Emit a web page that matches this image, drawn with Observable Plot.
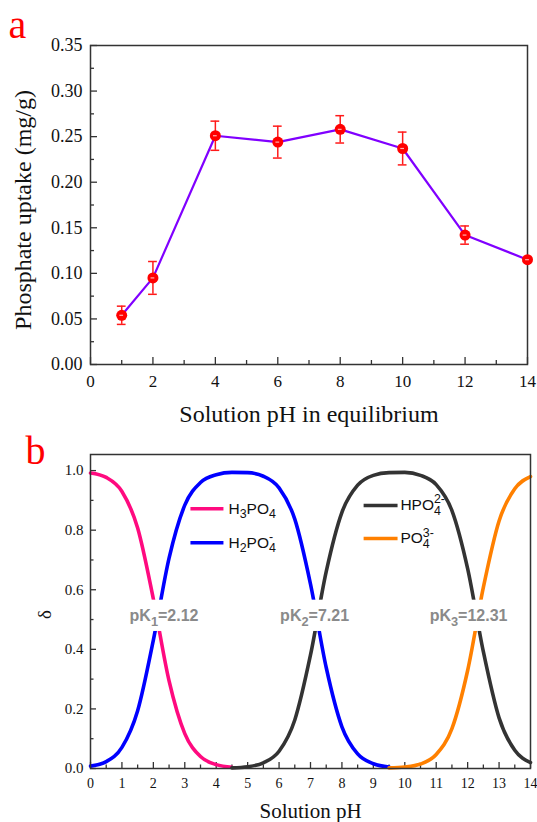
<!DOCTYPE html>
<html><head><meta charset="utf-8">
<script src="https://cdn.jsdelivr.net/npm/d3@7"></script>
<script src="https://cdn.jsdelivr.net/npm/@observablehq/plot@0.6"></script>
<style>
body{margin:0;background:#fff;width:537px;height:822px;overflow:hidden}
#chart svg{display:block}
</style></head><body><div id="chart"></div>
<script>
// ---------- Panel a data ----------
const uptakePH = [1, 2, 4, 6, 8, 10, 12, 14];
const uptake = [0.054, 0.095, 0.251, 0.244, 0.258, 0.237, 0.142, 0.115];
const uptakeErr = [0.010, 0.018, 0.016, 0.0175, 0.015, 0.018, 0.010, 0.002];
const aXTicks = [0, 2, 4, 6, 8, 10, 12, 14];
const aXMinor = [1, 3, 5, 7, 9, 11, 13];
const aYTicks = [0, 0.05, 0.10, 0.15, 0.20, 0.25, 0.30, 0.35];
const aYMinor = [0.025, 0.075, 0.125, 0.175, 0.225, 0.275, 0.325];

// ---------- Panel b data ----------
const pHGrid = [0,0.5,1,1.5,2,2.5,3,3.5,4,4.5,5,5.5,6,6.5,7,7.5,8,8.5,9,9.5,10,10.5,11,11.5,12,12.5,13,13.5,14];
const fracH3PO4 = [0.992,0.977,0.930,0.807,0.569,0.294,0.117,0.040,0.013,0.004,
  null,null,null,null,null,null,null,null,null,null,null,null,null,null,null,null,null,null,null];
const fracH2PO4 = [0.008,0.023,0.071,0.194,0.431,0.706,0.884,0.960,0.986,0.994,
  0.993,0.981,0.942,0.837,0.619,0.339,0.140,0.049,0.016,0.005,
  null,null,null,null,null,null,null,null,null];
const fracHPO4 = [null,null,null,null,null,null,null,null,null,
  0.002,0.006,0.019,0.058,0.163,0.381,0.661,0.860,0.951,0.984,0.993,
  0.994,0.984,0.953,0.866,0.671,0.392,0.170,0.061,0.020];
const fracPO4 = [null,null,null,null,null,null,null,null,null,null,
  null,null,null,null,null,null,null,null,null,
  0.002,0.005,0.015,0.047,0.134,0.329,0.608,0.831,0.939,0.980];
const speciesNames = ["H3PO4", "H2PO4-", "HPO42-", "PO43-"];
const pKNames = ["pK1=2.12", "pK2=7.21", "pK3=12.31"];
const pKLabelPH = [2.34, 7.13, 12.03];
const bXTicks = [0,1,2,3,4,5,6,7,8,9,10,11,12,13,14];
const bXMinor = [0.5,1.5,2.5,3.5,4.5,5.5,6.5,7.5,8.5,9.5,10.5,11.5,12.5,13.5];
const bYTicks = [0, 0.2, 0.4, 0.6, 0.8, 1.0];
const bYMinor = [0.1, 0.3, 0.5, 0.7, 0.9];

// ---------- styles / layout ----------
const SERIF = "'Liberation Serif','Times New Roman',serif";
const SANS = "'Liberation Sans',Arial,sans-serif";
const speciesColors = ["#ff0a7f", "#0000ff", "#333333", "#ff8000"];
const legendLayout = [
  {x1: 3.18, x2: 4.23, tx: 4.39, y: 0.872},
  {x1: 3.18, x2: 4.23, tx: 4.39, y: 0.758},
  {x1: 8.69, x2: 9.77, tx: 9.86, y: 0.883},
  {x1: 8.69, x2: 9.77, tx: 9.86, y: 0.772}
];
const richText = {
  "H3PO4": [["H"], ["3", "sub"], ["PO"], ["4", "sub"]],
  "H2PO4-": [["H"], ["2", "sub"], ["PO"], ["4", "sub"], ["-", "stack"]],
  "HPO42-": [["HPO"], ["4", "sub"], ["2-", "stack"]],
  "PO43-": [["PO"], ["4", "sub"], ["3-", "stack"]],
  "pK1=2.12": [["pK"], ["1", "sub"], ["=2.12"]],
  "pK2=7.21": [["pK"], ["2", "sub"], ["=7.21"]],
  "pK3=12.31": [["pK"], ["3", "sub"], ["=12.31"]]
};

// ---------- Panel a ----------
const rowsA = uptakePH.map((x, i) => ({x, y: uptake[i], lo: uptake[i] - uptakeErr[i], hi: uptake[i] + uptakeErr[i]}));
const wA = 537, hA = 432, mtA = 45, mbA = 68, mlA = 90, mrA = 10;
const innerHA = hA - mtA - mbA, innerWA = wA - mlA - mrA;

const plotA = Plot.plot({
  width: wA, height: hA, marginTop: mtA, marginBottom: mbA, marginLeft: mlA, marginRight: mrA,
  style: {fontFamily: SERIF, fontSize: "17px", color: "#111", background: "white", overflow: "visible"},
  x: {domain: [0, 14]},
  y: {domain: [0, 0.35]},
  marks: [
    Plot.ruleX(aXTicks, {x: d => d, insetTop: innerHA - 7, stroke: "#333", strokeWidth: 1.3}),
    Plot.ruleX(aXMinor, {x: d => d, insetTop: innerHA - 4, stroke: "#333", strokeWidth: 1.3}),
    Plot.ruleY(aYTicks, {y: d => d, insetRight: innerWA - 7, stroke: "#333", strokeWidth: 1.3}),
    Plot.ruleY(aYMinor, {y: d => d, insetRight: innerWA - 4, stroke: "#333", strokeWidth: 1.3}),
    Plot.axisX(aXTicks, {tickSize: 0, tickPadding: 10, fontSize: 17, label: null, tickFormat: d => String(d)}),
    Plot.axisY(aYTicks, {tickSize: 0, tickPadding: 8, fontSize: 18, label: null, tickFormat: d => d.toFixed(2)}),
    Plot.frame({stroke: "#333", strokeWidth: 1.5}),
    Plot.line(rowsA, {x: "x", y: "y", stroke: "#8000ff", strokeWidth: 2.2}),
    Plot.ruleX(rowsA, {x: "x", y1: "lo", y2: "hi", stroke: "#ff1a1a", strokeWidth: 1.5}),
    Plot.ruleY(rowsA, {y: "hi", x1: d => d.x - 0.14, x2: d => d.x + 0.14, stroke: "#ff1a1a", strokeWidth: 1.5}),
    Plot.ruleY(rowsA, {y: "lo", x1: d => d.x - 0.14, x2: d => d.x + 0.14, stroke: "#ff1a1a", strokeWidth: 1.5}),
    Plot.dot(rowsA, {x: "x", y: "y", r: 5.5, fill: "#ff0000"}),
    Plot.ruleY(rowsA, {y: "y", x1: d => d.x - 0.06, x2: d => d.x + 0.06, stroke: "#ffb0b0", strokeWidth: 1.2}),
    Plot.text(["a"], {text: d => d, frameAnchor: "top-left", dx: -82, dy: -8, lineAnchor: "bottom", textAnchor: "start", fontSize: 40, fill: "#ff0000"}),
    Plot.text(["Solution pH in equilibrium"], {text: d => d, frameAnchor: "bottom", dy: 57, lineAnchor: "bottom", textAnchor: "middle", fontSize: 24, fill: "#111"}),
    Plot.text(["Phosphate uptake (mg/g)"], {text: d => d, frameAnchor: "left", dx: -67, dy: 5, rotate: -90, lineAnchor: "middle", textAnchor: "middle", fontSize: 24, fill: "#111"})
  ]
});

// ---------- Panel b ----------
const wB = 537, hB = 390, mtB = 22, mbB = 54, mlB = 90, mrB = 7;
const innerHB = hB - mtB - mbB, innerWB = wB - mlB - mrB;
const fracs = [fracH3PO4, fracH2PO4, fracHPO4, fracPO4];
const legendRows = speciesNames.map((name, i) => ({name, color: speciesColors[i], ...legendLayout[i]}));
const pKRows = pKNames.map((name, i) => ({name, x: pKLabelPH[i]}));

const plotB = Plot.plot({
  width: wB, height: hB, marginTop: mtB, marginBottom: mbB, marginLeft: mlB, marginRight: mrB,
  style: {fontFamily: SERIF, fontSize: "15px", color: "#111", background: "white", overflow: "visible"},
  x: {domain: [0, 14]},
  y: {domain: [0, 1.054]},
  marks: [
    Plot.ruleX(bXTicks, {x: d => d, insetTop: innerHB - 6, stroke: "#333", strokeWidth: 1.3}),
    Plot.ruleX(bXMinor, {x: d => d, insetTop: innerHB - 3.5, stroke: "#333", strokeWidth: 1.3}),
    Plot.ruleY(bYTicks, {y: d => d, insetRight: innerWB - 6, stroke: "#333", strokeWidth: 1.3}),
    Plot.ruleY(bYMinor, {y: d => d, insetRight: innerWB - 3.5, stroke: "#333", strokeWidth: 1.3}),
    Plot.axisX(bXTicks, {tickSize: 0, tickPadding: 10, fontSize: 14, label: null, tickFormat: d => String(d)}),
    Plot.axisY(bYTicks, {tickSize: 0, tickPadding: 7, fontSize: 15, label: null, tickFormat: d => d.toFixed(1)}),
    ...fracs.map((f, k) => Plot.line(pHGrid, {x: d => d, y: (d, i) => f[i], stroke: speciesColors[k], strokeWidth: 3.6, curve: "monotone-x"})),
    Plot.rect(pKRows, {x1: d => d.x - 1.1, x2: d => d.x + 1.1, y1: 0.46, y2: 0.565, fill: "white"}),
    Plot.frame({stroke: "#333", strokeWidth: 1.5}),
    Plot.text(pKRows, {x: "x", y: 0.513, text: "name", fontFamily: SANS, fontWeight: "bold", fontSize: 16, fill: "#8a8a8a", lineAnchor: "middle", textAnchor: "middle"}),
    Plot.link(legendRows, {x1: "x1", x2: "x2", y1: "y", y2: "y", stroke: "color", strokeWidth: 3.6}),
    Plot.text(legendRows, {x: "tx", y: "y", text: "name", fontFamily: SANS, fontSize: 15.5, fill: "#111", textAnchor: "start", lineAnchor: "middle"}),
    Plot.text(["b"], {text: d => d, frameAnchor: "top-left", dx: -65, dy: 9, lineAnchor: "bottom", textAnchor: "start", fontSize: 40, fill: "#ff0000"}),
    Plot.text(["Solution pH"], {text: d => d, frameAnchor: "bottom", dy: 49, lineAnchor: "bottom", textAnchor: "middle", fontSize: 21, fill: "#111"}),
    Plot.text(["δ"], {text: d => d, frameAnchor: "left", dx: -46, dy: 3, rotate: -90, lineAnchor: "middle", textAnchor: "middle", fontSize: 19, fill: "#111"})
  ]
});

const chart = document.getElementById("chart");
chart.appendChild(plotA);
chart.appendChild(plotB);

function richify(svg) {
  d3.select(svg).selectAll("text").each(function () {
    const parts = richText[this.textContent];
    if (!parts) return;
    const fs = parseFloat(getComputedStyle(this).fontSize) || 15;
    this.textContent = "";
    let shift = 0, lastW = 0;
    for (const [t, kind = "n"] of parts) {
      const ts = document.createElementNS("http://www.w3.org/2000/svg", "tspan");
      ts.textContent = t;
      let target = 0, dx = 0;
      if (kind === "sub") { target = 0.3 * fs; ts.setAttribute("font-size", 0.8 * fs); }
      else if (kind === "stack") { target = -0.45 * fs; ts.setAttribute("font-size", 0.8 * fs); dx = -lastW; }
      if (target - shift) ts.setAttribute("dy", target - shift);
      if (dx) ts.setAttribute("dx", dx);
      shift = target;
      this.appendChild(ts);
      lastW = ts.getComputedTextLength();
    }
  });
}
richify(plotB);
</script></body></html>
